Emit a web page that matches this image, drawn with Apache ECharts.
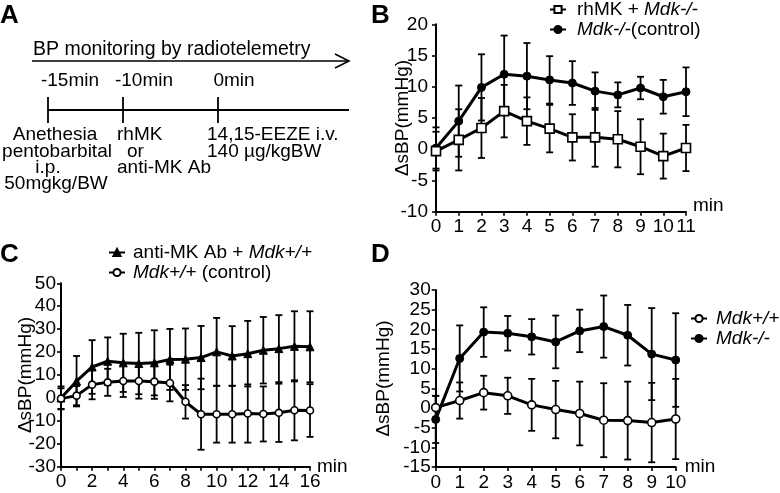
<!DOCTYPE html>
<html><head><meta charset="utf-8">
<script src="https://cdn.jsdelivr.net/npm/echarts@6/dist/echarts.min.js"></script>
<style>html,body{margin:0;padding:0;background:#fff}#c{width:780px;height:493px}</style>
</head><body><div id="c"></div><script>
// ---- Panel B data ----
const bX = [0,1,2,3,4,5,6,7,8,9,10,11];
const bRhMK = [-0.3,1.5,3.4,6.1,4.5,3.3,1.9,1.9,1.6,0.4,-1.1,0.2];
const bRhMKErr = [3.1,4.9,4.8,4.2,3.8,3.8,3.7,4.7,4.5,4.4,3.6,3.7];
const bCtrl = [0.2,4.5,9.9,12.0,11.7,11.1,10.6,9.3,8.7,9.8,8.4,9.2];
const bCtrlErr = [3.3,5.7,5.3,6.2,5.3,3.8,3.5,3.0,2.0,1.8,2.7,3.9];
const bYTicks = {min:-10, max:20, interval:5};
// ---- Panel C data ----
const cX = [0,1,2,3,4,5,6,7,8,9,10,11,12,13,14,15,16];
const cAb = [0,7.3,13.5,16.0,15.3,15.0,15.3,16.8,16.9,17.6,20.1,18.3,19.3,20.8,21.5,22.5,22.3];
const cAbErr = [5,11,11.7,10.4,12.7,13.4,14.2,13.3,13.4,13.8,14.8,13,14.3,14.5,14.6,15.3,15.5];
const cCtrl = [-0.3,1.0,5.8,6.8,7.4,7.4,7.1,6.5,-1.7,-7.1,-7.1,-7.1,-6.8,-7.0,-6.5,-5.4,-5.5];
const cCtrlErr = [4.5,4.2,6.4,5.9,7.0,7.7,7.5,8.0,7.3,15.5,12.4,12.4,12.7,12.0,12.7,13.1,11.5];
const cYTicks = {min:-30, max:50, interval:10};
// ---- Panel D data ----
const dX = [0,1,2,3,4,5,6,7,8,9,10];
const dWT = [0.1,1.9,3.9,3.1,0.8,-0.4,-1.4,-3.1,-3.2,-3.7,-2.8];
const dWTErr = [3.0,4.6,4.3,4.6,6.6,7.3,8.1,9.4,9.9,10.1,10.2];
const dKO = [-2.9,12.6,19.3,19.0,18.1,16.8,19.6,20.7,18.5,13.7,12.2];
const dKOErr = [6.0,8.4,6.3,4.4,4.5,6.7,5.4,7.9,7.7,11.7,11.9];
const dYTicks = {min:-15, max:30, interval:5};

const FONT = 'Liberation Sans, Arial, sans-serif';
const chart = echarts.init(document.getElementById('c'), null, {renderer:'canvas'});

function pts(xs, ys){ return xs.map((x,i)=>[x, ys[i]]); }
function errData(xs, ys, es){ return xs.map((x,i)=>[x, ys[i]-es[i], ys[i]+es[i]]); }
function errRender(params, api){
  const x = api.value(0), lo = api.value(1), hi = api.value(2);
  const a = api.coord([x, hi]), b = api.coord([x, lo]);
  const h = 3.5;
  const st = {stroke:'#000', lineWidth:1.8};
  return {type:'group', children:[
    {type:'line', shape:{x1:a[0],y1:a[1],x2:b[0],y2:b[1]}, style:st},
    {type:'line', shape:{x1:a[0]-h,y1:a[1],x2:a[0]+h,y2:a[1]}, style:st},
    {type:'line', shape:{x1:b[0]-h,y1:b[1],x2:b[0]+h,y2:b[1]}, style:st}
  ]};
}
function errSeries(idx, xs, ys, es){
  return {type:'custom', xAxisIndex:idx, yAxisIndex:idx, renderItem:errRender,
    data:errData(xs, ys, es), encode:{x:0, y:[1,2]}, z:1, silent:true, animation:false};
}
function lineSeries(idx, name, xs, ys, symbol, open, size){
  return {type:'line', name, xAxisIndex:idx, yAxisIndex:idx, data:pts(xs, ys),
    symbol, symbolSize:size, showSymbol:true,
    itemStyle: open ? {color:'#fff', borderColor:'#000', borderWidth:1.6} : {color:'#000', borderColor:'#000', borderWidth:1},
    lineStyle:{color:'#000', width:3}, z:3, animation:false};
}
const axLine = {show:true, lineStyle:{color:'#000', width:2}};
const axTick = {show:true, length:4, lineStyle:{color:'#000', width:1.6}};
function xAx(idx, max, fmt, nameGap, nameVA, namePad){
  return {type:'value', gridIndex:idx, min:0, max, interval:1,
    axisLine:{...axLine, onZero:false}, axisTick:axTick, splitLine:{show:false},
    axisLabel:{color:'#000', fontSize:19, fontFamily:FONT, margin:6, formatter:fmt, showMinLabel:true, showMaxLabel:true, hideOverlap:false},
    name:'min', nameLocation:'end', nameGap, nameMoveOverlap:false,
    nameTextStyle:{color:'#000', fontSize:19, fontFamily:FONT, verticalAlign:nameVA, padding:namePad}};
}
function yAx(idx, t, margin, nameGap){
  return {type:'value', gridIndex:idx, min:t.min, max:t.max, interval:t.interval,
    axisLine:{...axLine, onZero:false}, axisTick:axTick, splitLine:{show:false},
    axisLabel:{color:'#000', fontSize:19, fontFamily:FONT, margin, showMinLabel:true, showMaxLabel:true},
    name:'ΔsBP(mmHg)', nameLocation:'middle', nameRotate:90, nameGap, nameMoveOverlap:false,
    nameTextStyle:{color:'#000', fontSize:19, fontFamily:FONT}};
}
const legendRich = {n:{fontSize:19, fontFamily:FONT, color:'#000'}, i:{fontSize:19, fontFamily:FONT, fontStyle:'italic', color:'#000'}};
const legendFmt = {
  'rhMK + Mdk-/-':'{n|rhMK + }{i|Mdk-/-}',
  'Mdk-/-(control)':'{i|Mdk-/-}{n|(control)}',
  'anti-MK Ab + Mdk+/+':'{n|anti-MK Ab + }{i|Mdk+/+}',
  'Mdk+/+ (control)':'{i|Mdk+/+}{n| (control)}',
  'Mdk+/+':'{i|Mdk+/+}',
  'Mdk-/-':'{i|Mdk-/-}'
};
function legend(names, left, top, padL){
  return {data:names, left, top, orient:'vertical', itemGap:1, itemWidth:16, itemHeight:9,
    padding:0, selectedMode:false, formatter:n=>legendFmt[n], textStyle:{rich:legendRich, fontSize:19, fontFamily:FONT, color:'#000', padding:[0,0,0,padL]}};
}
function txt(text, x, y, align, size, bold){
  return {type:'text', x, y, style:{text, fill:'#000', font:(bold?'bold ':'')+size+'px '+FONT, textAlign:align||'left', textVerticalAlign:'middle'}};
}
const L = (x1,y1,x2,y2,w)=>({type:'line', shape:{x1,y1,x2,y2}, style:{stroke:'#000', lineWidth:w||1.6}});

const option = {
  backgroundColor:'#fff',
  animation:false,
  grid:[
    {left:436, top:24.3, width:250, height:187.4, outerBoundsMode:'none', containLabel:false},
    {left:61, top:283.3, width:249, height:183.4, outerBoundsMode:'none', containLabel:false},
    {left:435.7, top:290, width:240, height:177, outerBoundsMode:'none', containLabel:false}
  ],
  xAxis:[
    xAx(0, 11, v=>String(v), 7, 'bottom', [0,0,-4,0]),
    xAx(1, 16, v=>(v%2===0?String(v):''), 7, 'middle', 0),
    xAx(2, 10, v=>String(v), 9, 'middle', 0)
  ],
  yAxis:[
    yAx(0, bYTicks, 8, 24),
    yAx(1, cYTicks, 5, 26),
    yAx(2, dYTicks, 5, 42)
  ],
  legend:[
    legend(['rhMK + Mdk-/-','Mdk-/-(control)'], 549, 0, 6),
    legend(['anti-MK Ab + Mdk+/+','Mdk+/+ (control)'], 108, 243, 3),
    legend(['Mdk+/+','Mdk-/-'], 690, 309, 4)
  ],
  series:[
    errSeries(0, bX, bRhMK, bRhMKErr),
    errSeries(0, bX, bCtrl, bCtrlErr),
    lineSeries(0, 'Mdk-/-(control)', bX, bCtrl, 'circle', false, 8),
    lineSeries(0, 'rhMK + Mdk-/-', bX, bRhMK, 'rect', true, 9),
    errSeries(1, cX, cAb, cAbErr),
    errSeries(1, cX, cCtrl, cCtrlErr),
    lineSeries(1, 'anti-MK Ab + Mdk+/+', cX, cAb, 'triangle', false, 8),
    lineSeries(1, 'Mdk+/+ (control)', cX, cCtrl, 'circle', true, 7),
    errSeries(2, dX, dKO, dKOErr),
    errSeries(2, dX, dWT, dWTErr),
    lineSeries(2, 'Mdk-/-', dX, dKO, 'circle', false, 8),
    lineSeries(2, 'Mdk+/+', dX, dWT, 'circle', true, 8)
  ],
  graphic:[
    txt('A', 0, 16, 'left', 26, true),
    txt('B', 371, 16, 'left', 26, true),
    txt('C', 0, 255, 'left', 26, true),
    txt('D', 371, 255, 'left', 26, true),
    txt('BP monitoring by radiotelemetry', 33, 50, 'left', 19.5),
    L(32,61,349,61,1.6),
    {type:'polyline', shape:{points:[[335,54],[349,61],[335,68]]}, style:{stroke:'#000', lineWidth:1.6, fill:null}},
    txt('-15min', 70, 81, 'center', 19),
    txt('-10min', 144, 81, 'center', 19),
    txt('0min', 234, 81, 'center', 19),
    L(48,110,349,110,1.8),
    L(48,97,48,123,1.8), L(123,97,123,123,1.8), L(218,97,218,123,1.8),
    txt('Anethesia', 55, 135, 'center', 19),
    txt('pentobarbital', 57, 152, 'center', 19),
    txt('i.p.', 48, 168, 'center', 19),
    txt('50mgkg/BW', 56, 184, 'center', 19),
    txt('rhMK', 117, 135, 'left', 19),
    txt('or', 127, 152, 'left', 19),
    txt('anti-MK Ab', 117, 168, 'left', 19),
    txt('14,15-EEZE i.v.', 207, 135, 'left', 19),
    txt('140 µg/kgBW', 207, 152, 'left', 19)
  ]
};
chart.setOption(option);
</script></body></html>
